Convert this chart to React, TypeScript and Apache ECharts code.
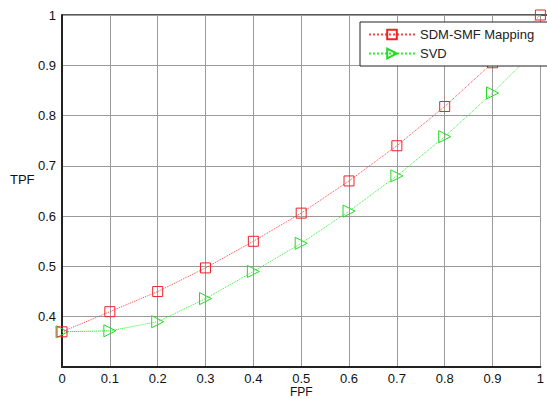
import React, { useEffect, useRef } from "react";
import * as echarts from "echarts";

const fpf = [0, 0.1, 0.2, 0.3, 0.4, 0.5, 0.6, 0.7, 0.8, 0.9, 1];
const sdmSmf = [0.37, 0.41, 0.45, 0.497, 0.55, 0.606, 0.67, 0.74, 0.818, 0.905, 1.0];
const svd = [0.37, 0.372, 0.39, 0.436, 0.49, 0.546, 0.61, 0.68, 0.758, 0.845, 0.94];
const seriesNames = ["SDM-SMF Mapping", "SVD"];

const FONT = "Liberation Sans";

export default function App() {
  const ref = useRef<HTMLDivElement>(null);
  useEffect(() => {
    if (!ref.current) return;
    const chart = echarts.init(ref.current, null, { renderer: "svg" });
    const tri = "path://M0,0 L10,5 L0,10 Z";
    chart.setOption({
      animation: false,
      backgroundColor: "#fff",
      textStyle: { fontFamily: FONT },
      grid: { left: 62, right: 1, top: 15, bottom: 32 },
      xAxis: {
        type: "value",
        min: 0,
        max: 1,
        interval: 0.1,
        axisLine: { lineStyle: { color: "#222", width: 2 } },
        axisTick: { show: false },
        axisLabel: { color: "#111", fontSize: 13, fontFamily: FONT, margin: 4, lineHeight: 14 },
        splitLine: { lineStyle: { color: "#9a9a9a", width: 1 } },
      },
      yAxis: {
        type: "value",
        min: 0.3,
        max: 1,
        interval: 0.1,
        axisLine: { show: true, lineStyle: { color: "#222", width: 2 } },
        axisTick: { show: false },
        axisLabel: { color: "#111", fontSize: 13, fontFamily: FONT, margin: 6, showMinLabel: false },
        splitLine: { lineStyle: { color: "#9a9a9a", width: 1 } },
      },
      legend: {
        left: 360,
        top: 22,
        orient: "vertical",
        backgroundColor: "#fff",
        borderColor: "#222",
        borderWidth: 1,
        borderRadius: 0,
        padding: [6, 17, 6, 8],
        itemGap: 6,
        itemWidth: 46,
        itemHeight: 12,
        textStyle: { fontSize: 13, color: "#222", fontFamily: FONT },
        data: seriesNames,
      },
      graphic: [
        {
          type: "line",
          shape: { x1: 62, y1: 15, x2: 547, y2: 15 },
          style: { stroke: "#222", lineWidth: 1.5 },
        },
        {
          type: "text",
          left: 10,
          top: 173,
          style: { text: "TPF", fontSize: 13, fill: "#111", fontFamily: FONT },
        },
        {
          type: "text",
          left: 290,
          top: 386,
          style: { text: "FPF", fontSize: 12, lineHeight: 12, fill: "#111", fontFamily: FONT },
        },
      ],
      series: [
        {
          name: seriesNames[0],
          type: "line",
          data: fpf.map((x, i) => [x, sdmSmf[i]]),
          symbol: "rect",
          symbolSize: 10,
          showAllSymbol: true,
          color: "#ff3333",
          lineStyle: { color: "#ff4444", width: 1, type: "dotted" },
          itemStyle: { color: "transparent", borderColor: "#ee2222", borderWidth: 1 },
          z: 3,
        },
        {
          name: seriesNames[1],
          type: "line",
          data: fpf.map((x, i) => [x, svd[i]]),
          symbol: tri,
          symbolSize: [12, 12],
          showAllSymbol: true,
          color: "#33ee33",
          lineStyle: { color: "#33ee33", width: 1, type: "dotted" },
          itemStyle: { color: "transparent", borderColor: "#22dd22", borderWidth: 1 },
          z: 2,
        },
      ],
    });
    return () => chart.dispose();
  }, []);
  return (
    <div
      ref={ref}
      style={{ position: "absolute", left: 0, top: 0, width: 547, height: 399 }}
    />
  );
}
